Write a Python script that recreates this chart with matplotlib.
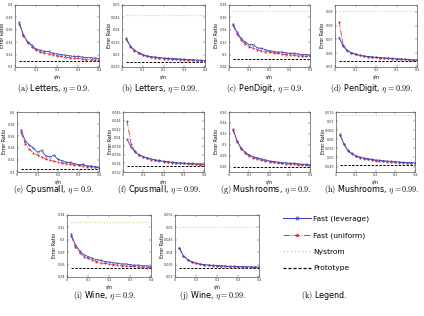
import matplotlib
matplotlib.use("Agg")
import matplotlib.pyplot as plt
from matplotlib.lines import Line2D
from matplotlib.ticker import FuncFormatter

plt.rcParams["mathtext.fontset"] = "cm"
plt.rcParams["font.family"] = "DejaVu Sans"

# sampling ratio s/n
S_OVER_N = [0.02, 0.04, 0.06, 0.08, 0.10, 0.12, 0.14, 0.16, 0.18, 0.20,
            0.22, 0.24, 0.26, 0.28, 0.30, 0.32, 0.34, 0.36, 0.38, 0.40]

LETTERS_09_LEV = [0.372, 0.352, 0.341, 0.335, 0.329, 0.327, 0.325, 0.325, 0.322, 0.321,
                  0.320, 0.319, 0.318, 0.317, 0.317, 0.316, 0.315, 0.315, 0.314, 0.313]
LETTERS_09_UNI = [0.370, 0.350, 0.339, 0.332, 0.327, 0.324, 0.322, 0.321, 0.320, 0.318,
                  0.317, 0.316, 0.315, 0.314, 0.314, 0.313, 0.312, 0.312, 0.311, 0.311]
LETTERS_099_LEV = [0.0365, 0.0335, 0.0318, 0.0308, 0.0300, 0.0295, 0.0292, 0.0290, 0.0288, 0.0286,
                   0.0285, 0.0284, 0.0283, 0.0282, 0.0281, 0.0280, 0.0279, 0.0278, 0.0277, 0.0276]
LETTERS_099_UNI = [0.0362, 0.0332, 0.0315, 0.0305, 0.0298, 0.0293, 0.0290, 0.0288, 0.0286, 0.0284,
                   0.0283, 0.0282, 0.0281, 0.0280, 0.0279, 0.0278, 0.0277, 0.0276, 0.0275, 0.0274]
PEN_09_LEV = [0.349, 0.336, 0.326, 0.320, 0.316, 0.316, 0.311, 0.310, 0.308, 0.306,
              0.305, 0.304, 0.304, 0.303, 0.302, 0.302, 0.301, 0.300, 0.300, 0.299]
PEN_09_UNI = [0.347, 0.333, 0.323, 0.317, 0.313, 0.310, 0.308, 0.306, 0.305, 0.304,
              0.303, 0.302, 0.301, 0.300, 0.300, 0.299, 0.298, 0.298, 0.297, 0.297]
PEN_099_LEV = [0.0714, 0.0650, 0.0618, 0.0603, 0.0593, 0.0585, 0.0580, 0.0576, 0.0573, 0.0570,
               0.0568, 0.0566, 0.0564, 0.0562, 0.0560, 0.0558, 0.0556, 0.0554, 0.0552, 0.0550]
PEN_099_UNI = [0.0830, 0.0660, 0.0620, 0.0604, 0.0592, 0.0584, 0.0579, 0.0575, 0.0572, 0.0569,
               0.0566, 0.0564, 0.0562, 0.0560, 0.0558, 0.0556, 0.0555, 0.0553, 0.0551, 0.0549]
CPU_09_LEV = [0.370, 0.352, 0.345, 0.340, 0.333, 0.336, 0.327, 0.325, 0.328, 0.321,
              0.319, 0.316, 0.316, 0.314, 0.312, 0.313, 0.310, 0.310, 0.309, 0.308]
CPU_09_UNI = [0.366, 0.347, 0.338, 0.332, 0.328, 0.325, 0.322, 0.320, 0.318, 0.316,
              0.315, 0.314, 0.313, 0.312, 0.311, 0.310, 0.309, 0.309, 0.308, 0.307]
CPU_099_LEV = [0.0396, 0.0378, 0.0366, 0.0360, 0.0356, 0.0353, 0.0350, 0.0348, 0.0347, 0.0345,
               0.0344, 0.0343, 0.0342, 0.0341, 0.0341, 0.0340, 0.0340, 0.0339, 0.0339, 0.0338]
CPU_099_UNI = [0.0439, 0.0385, 0.0368, 0.0360, 0.0355, 0.0352, 0.0349, 0.0347, 0.0345, 0.0344,
               0.0343, 0.0342, 0.0341, 0.0340, 0.0340, 0.0339, 0.0338, 0.0338, 0.0337, 0.0337]
MUSH_09_LEV = [0.328, 0.307, 0.294, 0.286, 0.281, 0.278, 0.276, 0.274, 0.272, 0.270,
               0.269, 0.268, 0.267, 0.267, 0.266, 0.266, 0.265, 0.264, 0.264, 0.263]
MUSH_09_UNI = [0.327, 0.305, 0.292, 0.284, 0.279, 0.276, 0.274, 0.272, 0.270, 0.269,
               0.268, 0.267, 0.266, 0.265, 0.265, 0.264, 0.263, 0.263, 0.262, 0.262]
MUSH_099_LEV = [0.0627, 0.0575, 0.0540, 0.0522, 0.0510, 0.0502, 0.0497, 0.0493, 0.0489, 0.0486,
                0.0484, 0.0482, 0.0480, 0.0478, 0.0476, 0.0475, 0.0473, 0.0472, 0.0471, 0.0470]
MUSH_099_UNI = [0.0625, 0.0572, 0.0537, 0.0519, 0.0507, 0.0499, 0.0494, 0.0490, 0.0486, 0.0483,
                0.0481, 0.0479, 0.0477, 0.0475, 0.0474, 0.0472, 0.0471, 0.0470, 0.0469, 0.0468]
WINE_09_LEV = [0.309, 0.292, 0.282, 0.276, 0.273, 0.270, 0.268, 0.267, 0.265, 0.264,
               0.263, 0.262, 0.261, 0.261, 0.260, 0.259, 0.259, 0.258, 0.258, 0.257]
WINE_09_UNI = [0.306, 0.289, 0.279, 0.273, 0.270, 0.267, 0.265, 0.263, 0.262, 0.261,
               0.260, 0.259, 0.258, 0.258, 0.257, 0.257, 0.256, 0.256, 0.255, 0.255]
WINE_099_LEV = [0.0416, 0.0385, 0.0370, 0.0362, 0.0356, 0.0352, 0.0350, 0.0348, 0.0347, 0.0346,
                0.0345, 0.0344, 0.0343, 0.0343, 0.0342, 0.0342, 0.0341, 0.0341, 0.0340, 0.0340]
WINE_099_UNI = [0.0418, 0.0386, 0.0370, 0.0361, 0.0355, 0.0351, 0.0349, 0.0347, 0.0346, 0.0345,
                0.0344, 0.0343, 0.0342, 0.0342, 0.0341, 0.0341, 0.0340, 0.0340, 0.0339, 0.0339]

# Nystrom and prototype levels (constant in s/n)
NYSTROM = [0.42, 0.046, 0.370, 0.0906, 0.42, 0.0459, 0.40, 0.0732, 0.329, 0.050]
PROTOTYPE = [0.309, 0.0269, 0.2935, 0.0541, 0.3056, 0.0334, 0.259, 0.0461, 0.255, 0.0336]

LETTERS = ["(a)", "(b)", "(c)", "(d)", "(e)", "(f)", "(g)", "(h)", "(i)", "(j)"]
DATASETS = ["Letters", "Letters", "PenDigit", "PenDigit", "Cpusmall", "Cpusmall",
            "Mushrooms", "Mushrooms", "Wine", "Wine"]
ETAS = ["0.9", "0.99"] * 5
LEV = [LETTERS_09_LEV, LETTERS_099_LEV, PEN_09_LEV, PEN_099_LEV, CPU_09_LEV,
       CPU_099_LEV, MUSH_09_LEV, MUSH_099_LEV, WINE_09_LEV, WINE_099_LEV]
UNI = [LETTERS_09_UNI, LETTERS_099_UNI, PEN_09_UNI, PEN_099_UNI, CPU_09_UNI,
       CPU_099_UNI, MUSH_09_UNI, MUSH_099_UNI, WINE_09_UNI, WINE_099_UNI]
YLIMS = [(0.30, 0.40), (0.025, 0.05), (0.28, 0.38), (0.05, 0.095), (0.30, 0.40),
         (0.032, 0.046), (0.25, 0.36), (0.042, 0.075), (0.24, 0.34), (0.03, 0.055)]
YSTEPS = [0.02, 0.005, 0.02, 0.01, 0.02, 0.002, 0.02, 0.005, 0.02, 0.005]
YSTART = [0.30, 0.025, 0.28, 0.05, 0.30, 0.032, 0.26, 0.045, 0.24, 0.03]

# axes boxes in pixels: left, top, right, bottom
BOXES = [(15, 5, 99, 67), (122, 5, 205, 67), (229, 5, 310, 67), (335, 5, 417, 67),
         (17, 112, 99, 172), (123, 112, 204, 172), (229, 112, 310, 172), (336, 112, 415, 172),
         (67, 215, 151, 277), (175, 215, 259, 277)]
CAPTION_Y = [89, 89, 89, 89, 190, 190, 190, 190, 296, 296]

W, H = 424, 316
BLUE = "#3040c0"
RED = "#e03030"
GREEN = "#c4dc96"

fmt = FuncFormatter(lambda v, p: "%g" % round(v, 4))

fig = plt.figure(figsize=(W / 100, H / 100), dpi=100)
for i in range(10):
    l, t, r, b = BOXES[i]
    ax = fig.add_axes([l / W, 1 - b / H, (r - l) / W, (b - t) / H])
    xs = S_OVER_N
    ax.plot(xs, [NYSTROM[i]] * len(xs), ls=":", color=GREEN, lw=0.8)
    ax.plot(xs, [PROTOTYPE[i]] * len(xs), ls=(0, (2.5, 1.5)), color="black", lw=0.7)
    ax.plot(xs, UNI[i], ls="-.", color=RED, lw=0.6, marker="*", ms=1.6, mew=0.3)
    ax.plot(xs, LEV[i], ls="-", color=BLUE, lw=0.6, marker="o", ms=1.3,
            mfc="none", mew=0.3)
    ax.set_xlim(0, 0.4)
    ax.set_ylim(*YLIMS[i])
    ax.set_xticks([0, 0.1, 0.2, 0.3, 0.4])
    ticks = []
    v = YSTART[i]
    while v <= YLIMS[i][1] + 1e-9:
        ticks.append(round(v, 4))
        v += YSTEPS[i]
    ax.set_yticks(ticks)
    ax.xaxis.set_major_formatter(fmt)
    ax.yaxis.set_major_formatter(fmt)
    ax.tick_params(labelsize=2.4, length=1.2, width=0.3, pad=1.0, direction="in",
                   top=True, right=True, colors="#333333")
    for s in ax.spines.values():
        s.set_linewidth(0.5)
        s.set_color("#555555")
    ax.set_xlabel("s/n", fontsize=3.4)
    ax.xaxis.set_label_coords(0.5, -7.5 / (b - t))
    ax.set_ylabel("Error Ratio", fontsize=3.4)
    ax.yaxis.set_label_coords(-10.0 / (r - l), 0.5)
    cx = (l + r) / 2 - 4
    fig.text(cx / W, 1 - CAPTION_Y[i] / H,
             r"$\mathrm{%s}$ %s, $\eta = %s$." % (LETTERS[i], DATASETS[i], ETAS[i]),
             ha="center", va="center", fontsize=5.8)

handles = [
    Line2D([], [], ls="-", color=BLUE, lw=0.7, marker="o", ms=2.2, mfc="none", mew=0.6),
    Line2D([], [], ls="-.", color=RED, lw=0.7, marker="*", ms=2.6, mew=0.5),
    Line2D([], [], ls=":", color=GREEN, lw=1.0),
    Line2D([], [], ls=(0, (2.5, 1.5)), color="black", lw=0.9),
]
labels = ["Fast (leverage)", "Fast (uniform)", "Nystrom", "Prototype"]
fig.legend(handles, labels, loc="upper left", bbox_to_anchor=(280 / W, 1 - 212 / H),
           frameon=False, fontsize=5.4, handlelength=3.7, handletextpad=0.35,
           labelspacing=1.35, borderaxespad=0)
fig.text(324 / W, 1 - 295 / H, r"$\mathrm{(k)}$ Legend.", ha="center", va="center",
         fontsize=5.8)

fig.savefig("out.png", dpi=100)
